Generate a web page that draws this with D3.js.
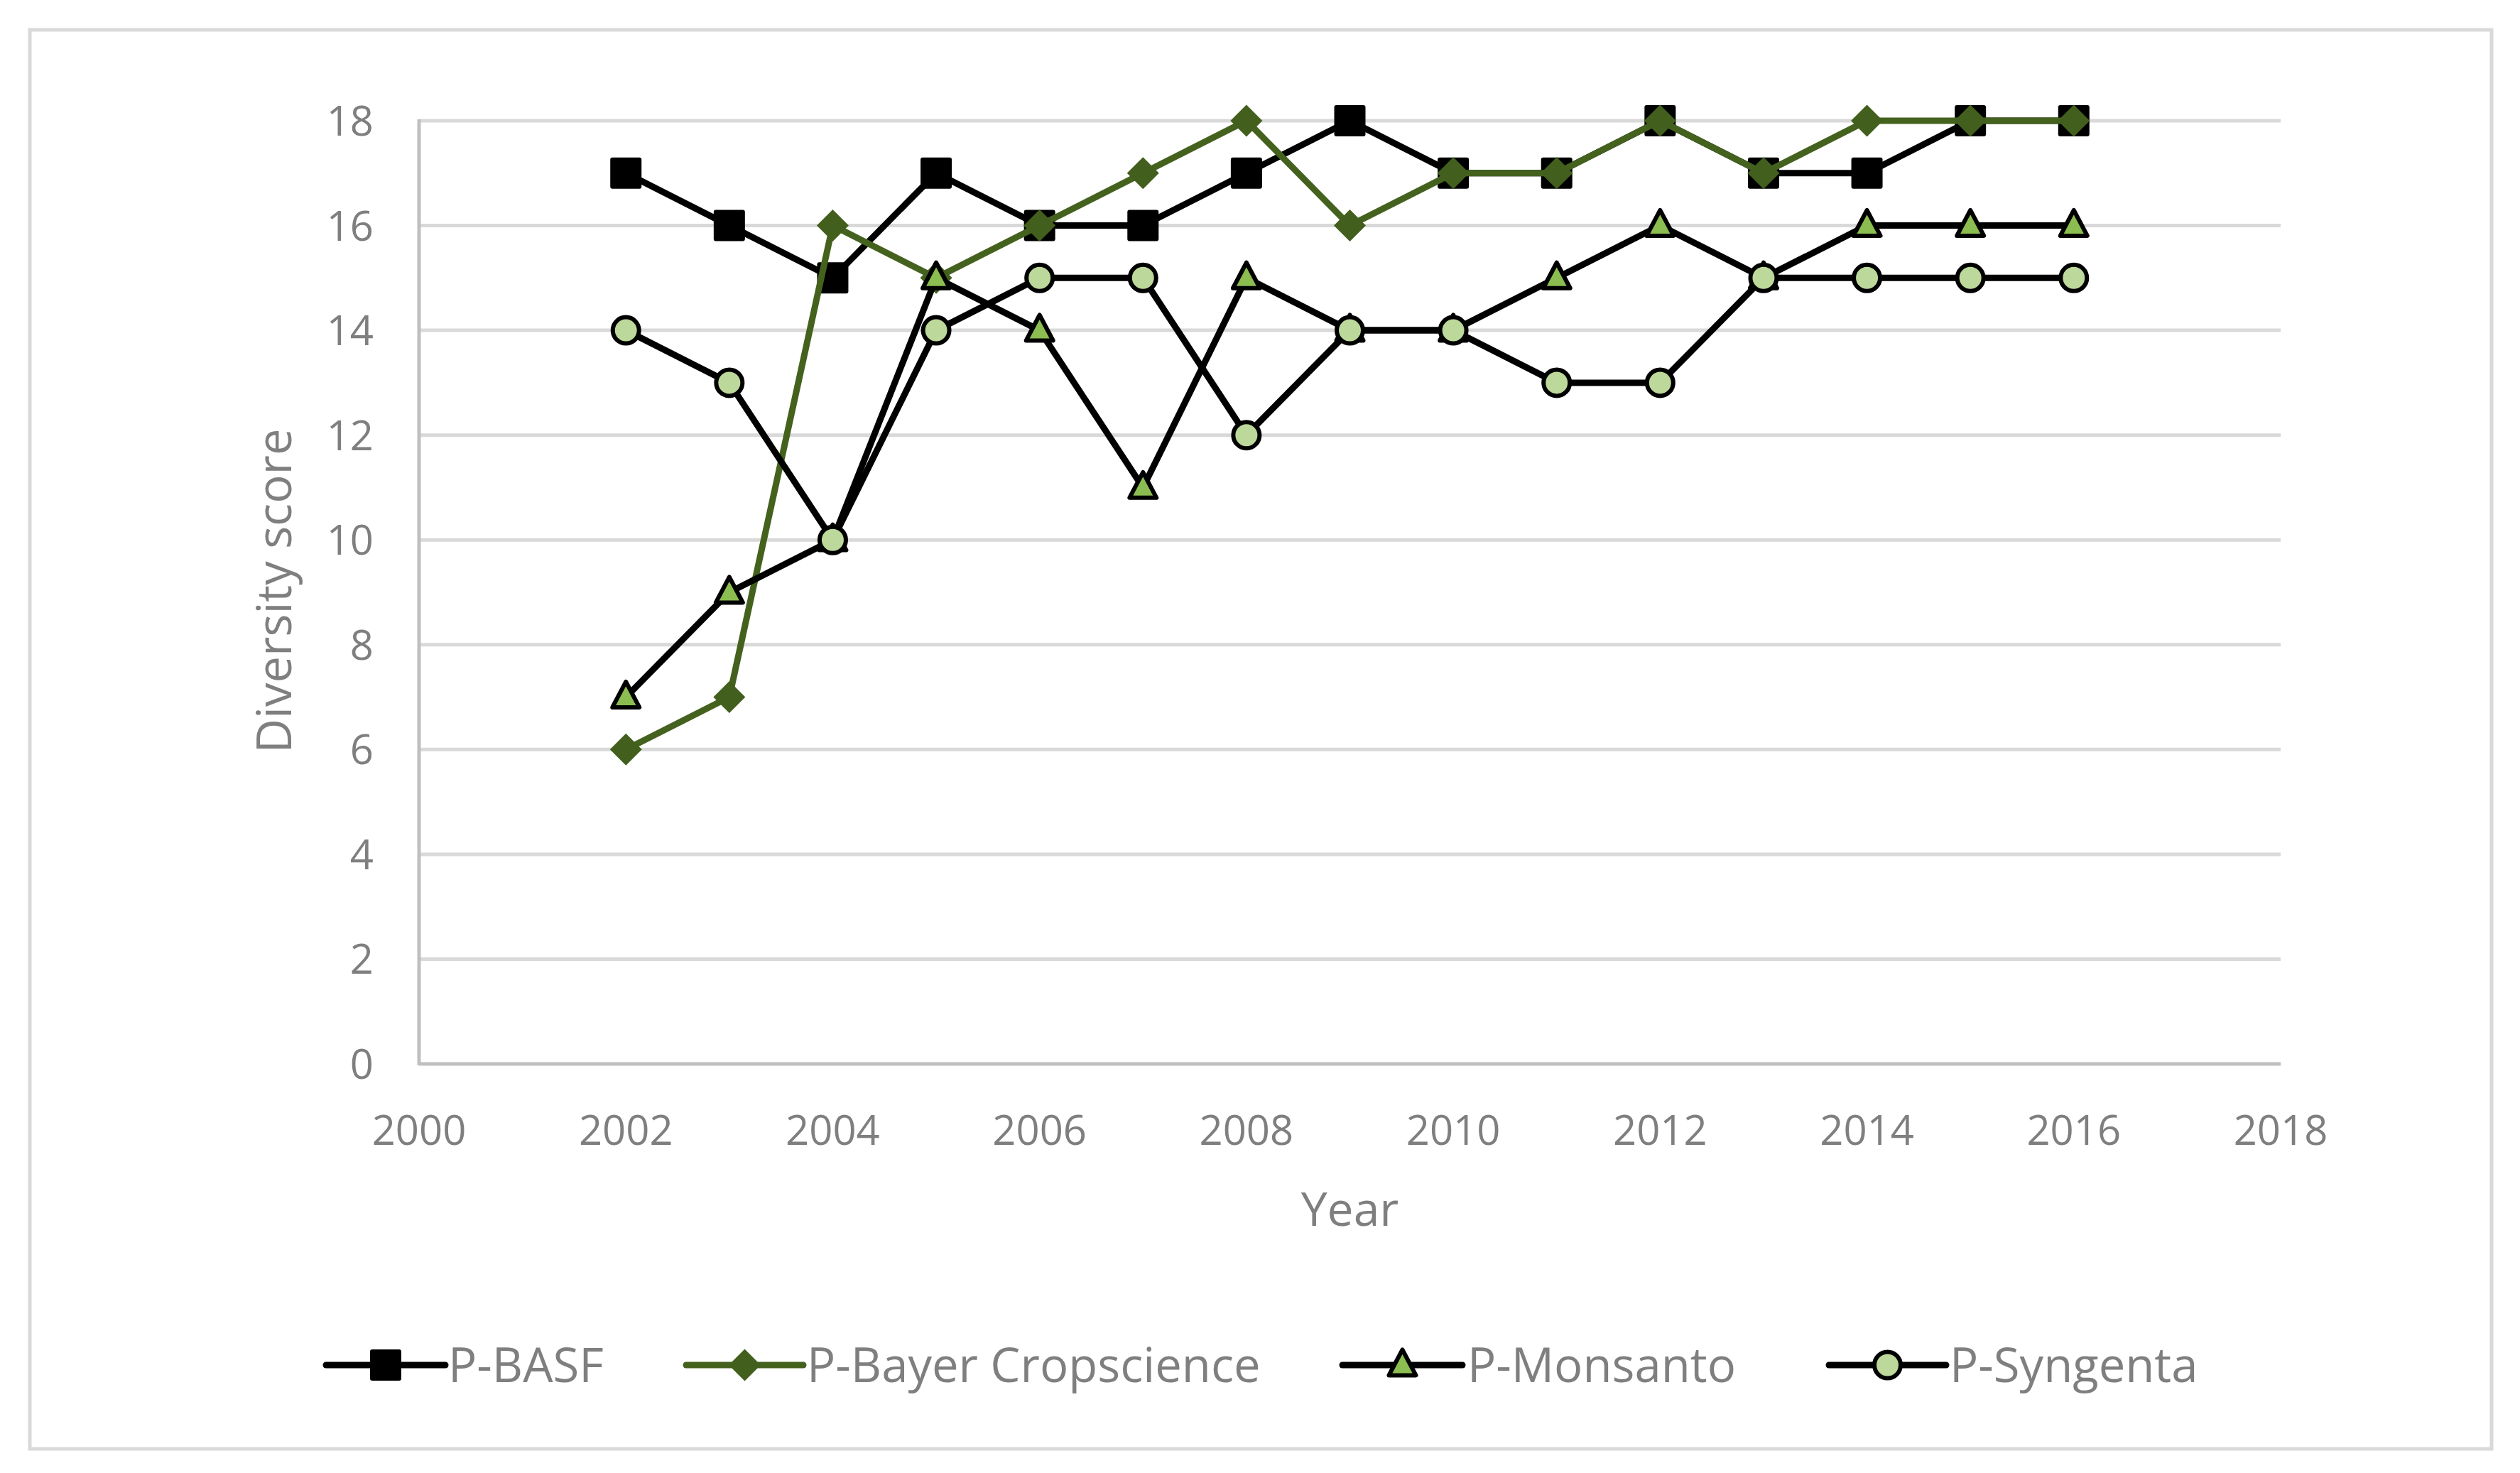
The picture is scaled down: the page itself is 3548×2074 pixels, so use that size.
<!DOCTYPE html>
<html>
<head>
<meta charset="utf-8">
<script src="https://cdn.jsdelivr.net/npm/d3@7"></script>
<style>
  html, body { margin: 0; padding: 0; background: #fff; }
  svg { display: block; }
  text { font-family: "Open Sans", "Noto Sans", sans-serif; fill: #7f7f7f; }
</style>
</head>
<body>
<svg id="chart" width="3548" height="2074"></svg>
<script>
const years = [2002,2003,2004,2005,2006,2007,2008,2009,2010,2011,2012,2013,2014,2015,2016];
const basf     = [17,16,15,17,16,16,17,18,17,17,18,17,17,18,18];
const bayer    = [6,7,16,15,16,17,18,16,17,17,18,17,18,18,18];
const monsanto = [7,9,10,15,14,11,15,14,14,15,16,15,16,16,16];
const syngenta = [14,13,10,14,15,15,12,14,14,13,13,15,15,15,15];
const seriesNames = ["P-BASF","P-Bayer Cropscience","P-Monsanto","P-Syngenta"];
const xTicks = [2000,2002,2004,2006,2008,2010,2012,2014,2016,2018];
const yTicks = [0,2,4,6,8,10,12,14,16,18];

const svg = d3.select("#chart");
const plot = {left: 590, right: 3211, top: 170, bottom: 1498};

const x = d3.scaleLinear().domain([2000, 2018]).range([plot.left, plot.right]);
const y = d3.scaleLinear().domain([0, 18]).range([plot.bottom, plot.top]);

// outer border
svg.append("rect").attr("x", 42).attr("y", 42).attr("width", 3466).attr("height", 1998)
  .attr("fill", "#fff").attr("stroke", "#d9d9d9").attr("stroke-width", 5);

// gridlines
svg.append("g").selectAll("line").data(yTicks.filter(d => d > 0)).join("line")
  .attr("x1", plot.left).attr("x2", plot.right)
  .attr("y1", d => y(d)).attr("y2", d => y(d))
  .attr("stroke", "#d9d9d9").attr("stroke-width", 5);

// axes lines
svg.append("line").attr("x1", plot.left).attr("x2", plot.left)
  .attr("y1", plot.top - 2).attr("y2", plot.bottom + 2)
  .attr("stroke", "#bfbfbf").attr("stroke-width", 5);
svg.append("line").attr("x1", plot.left).attr("x2", plot.right)
  .attr("y1", plot.bottom).attr("y2", plot.bottom)
  .attr("stroke", "#bfbfbf").attr("stroke-width", 5);

// tick labels
svg.append("g").selectAll("text").data(yTicks).join("text")
  .attr("x", 526).attr("y", d => y(d) + 21)
  .attr("text-anchor", "end").attr("font-size", 58)
  .text(d => d);
svg.append("g").selectAll("text").data(xTicks).join("text")
  .attr("x", d => x(d)).attr("y", 1612)
  .attr("text-anchor", "middle").attr("font-size", 58)
  .text(d => d);

// axis titles
svg.append("text").attr("x", (plot.left + plot.right) / 2).attr("y", 1726)
  .attr("text-anchor", "middle").attr("font-size", 66).text("Year");
svg.append("text").attr("transform", `translate(410, ${(plot.top + plot.bottom) / 2 - 2}) rotate(-90)`)
  .attr("text-anchor", "middle").attr("font-size", 67).text("Diversity score");

// marker shapes
const SQ = 44, DW = 45, DH = 45, TW = 38, TH = 36, CR = 18.5;
function squarePath(cx, cy) {
  const h = SQ / 2, r = 3;
  return `M${cx - h + r},${cy - h}h${SQ - 2*r}q${r},0 ${r},${r}v${SQ - 2*r}q0,${r} ${-r},${r}h${-(SQ - 2*r)}q${-r},0 ${-r},${-r}v${-(SQ - 2*r)}q0,${-r} ${r},${-r}Z`;
}
function diamondPath(cx, cy) {
  return `M${cx},${cy - DH/2}L${cx + DW/2},${cy}L${cx},${cy + DH/2}L${cx - DW/2},${cy}Z`;
}
function trianglePath(cx, cy) {
  return `M${cx},${cy - TH*0.6}L${cx + TW/2},${cy + TH*0.4}L${cx - TW/2},${cy + TH*0.4}Z`;
}
function circlePath(cx, cy) {
  return `M${cx - CR},${cy}a${CR},${CR} 0 1,0 ${2*CR},0a${CR},${CR} 0 1,0 ${-2*CR},0Z`;
}

const series = [
  {name: seriesNames[0], values: basf, line: "#000000", fill: "#000000", stroke: "none", sw: 0, shape: squarePath},
  {name: seriesNames[1], values: bayer, line: "#44621e", fill: "#425f1d", stroke: "none", sw: 0, shape: diamondPath},
  {name: seriesNames[2], values: monsanto, line: "#000000", fill: "#8cbd50", stroke: "#000000", sw: 6, shape: trianglePath},
  {name: seriesNames[3], values: syngenta, line: "#000000", fill: "#bdd89b", stroke: "#000000", sw: 6, shape: circlePath}
];

const lineGen = d3.line().x(d => x(d[0])).y(d => y(d[1]));

series.forEach(s => {
  const pts = years.map((yr, i) => [yr, s.values[i]]);
  const g = svg.append("g");
  g.append("path").attr("d", lineGen(pts))
    .attr("fill", "none").attr("stroke", s.line).attr("stroke-width", 9)
    .attr("stroke-linejoin", "round").attr("stroke-linecap", "round");
  g.selectAll("path.m").data(pts).join("path").attr("class", "m")
    .attr("d", d => s.shape(x(d[0]), y(d[1])))
    .attr("fill", s.fill).attr("stroke", s.stroke).attr("stroke-width", s.sw)
    .attr("stroke-linejoin", "round");
});

// legend
const legendY = 1922;
const legendItems = [
  {x1: 459, x2: 627, tx: 631},
  {x1: 966, x2: 1131, tx: 1136},
  {x1: 1890, x2: 2059, tx: 2066},
  {x1: 2575, x2: 2740, tx: 2745}
];
series.forEach((s, i) => {
  const L = legendItems[i];
  const g = svg.append("g");
  g.append("line").attr("x1", L.x1).attr("x2", L.x2).attr("y1", legendY).attr("y2", legendY)
    .attr("stroke", s.line).attr("stroke-width", 9).attr("stroke-linecap", "round");
  g.append("path").attr("d", s.shape((L.x1 + L.x2) / 2, legendY))
    .attr("fill", s.fill).attr("stroke", s.stroke).attr("stroke-width", s.sw).attr("stroke-linejoin", "round");
  g.append("text").attr("x", L.tx).attr("y", legendY + 24).attr("font-size", 67).text(s.name);
});
</script>
</body>
</html>
